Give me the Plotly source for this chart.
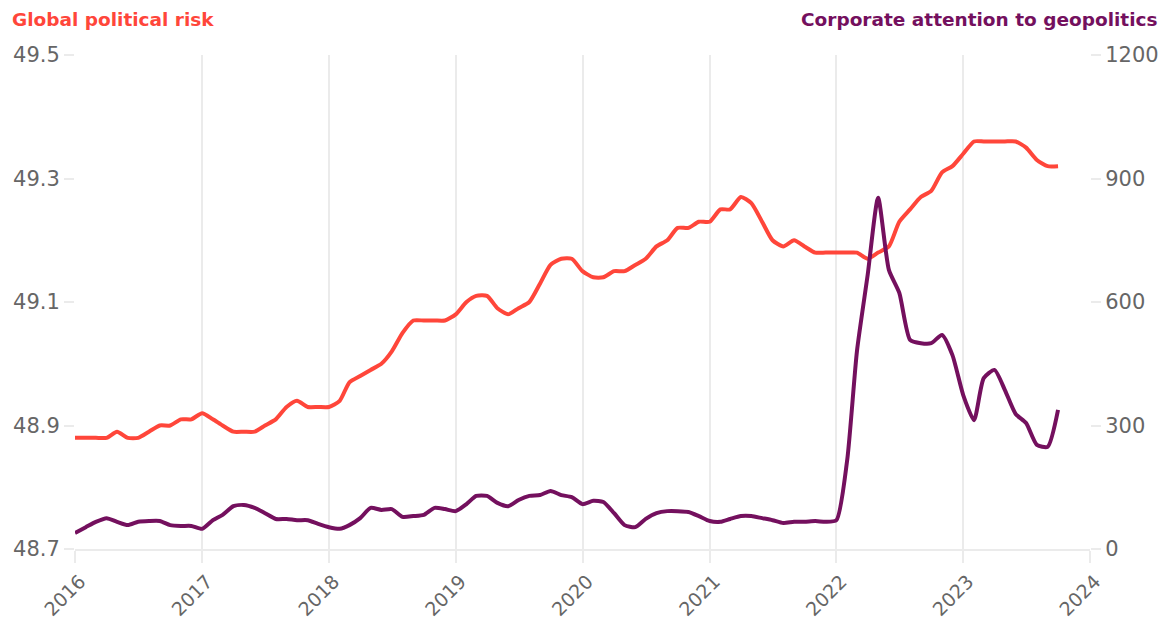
import plotly.graph_objects as go
import pandas as pd

dates = pd.date_range("2016-01-01", periods=94, freq="MS")

political_risk = [
    48.88, 48.88, 48.88, 48.88, 48.89, 48.88, 48.88, 48.89, 48.90, 48.90,
    48.91, 48.91, 48.92, 48.91, 48.90, 48.89, 48.89, 48.89, 48.90, 48.91,
    48.93, 48.94, 48.93, 48.93, 48.93, 48.94, 48.97, 48.98, 48.99, 49.00,
    49.02, 49.05, 49.07, 49.07, 49.07, 49.07, 49.08, 49.10, 49.11, 49.11,
    49.09, 49.08, 49.09, 49.10, 49.13, 49.16, 49.17, 49.17, 49.15, 49.14,
    49.14, 49.15, 49.15, 49.16, 49.17, 49.19, 49.20, 49.22, 49.22, 49.23,
    49.23, 49.25, 49.25, 49.27, 49.26, 49.23, 49.20, 49.19, 49.20, 49.19,
    49.18, 49.18, 49.18, 49.18, 49.18, 49.17, 49.18, 49.19, 49.23, 49.25,
    49.27, 49.28, 49.31, 49.32, 49.34, 49.36, 49.36, 49.36, 49.36, 49.36,
    49.35, 49.33, 49.32, 49.32,
]

corporate_attention = [
    39, 53, 66, 75, 66, 58, 66, 68, 68, 58,
    56, 56, 49, 70, 83, 104, 107, 100, 87, 73,
    73, 70, 70, 61, 53, 49, 58, 75, 100, 95,
    97, 78, 80, 83, 100, 97, 92, 109, 129, 129,
    112, 104, 119, 129, 131, 141, 131, 126, 109, 117,
    114, 87, 58, 53, 73, 87, 92, 92, 90, 80,
    68, 66, 73, 80, 80, 75, 70, 63, 66, 66,
    68, 66, 70, 216, 480, 666, 853, 678, 622, 508,
    500, 500, 520, 471, 374, 313, 415, 435, 386, 328,
    306, 253, 248, 338,
]

left_ticks = [48.7, 48.9, 49.1, 49.3, 49.5]
right_ticks = [0, 300, 600, 900, 1200]

RED = "#ff463a"
PURPLE = "#74105e"
GRID = "#ebebeb"
TICKFONT = dict(family="DejaVu Sans", size=21, color="#666666")
XTICKFONT = dict(family="DejaVu Sans", size=19, color="#666666")
TITLEFONT = "DejaVu Sans"

fig = go.Figure()
fig.add_trace(go.Scatter(
    x=dates, y=political_risk, mode="lines", name="Global political risk",
    line=dict(color=RED, width=4, shape="spline", smoothing=0.6),
    yaxis="y",
))
fig.add_trace(go.Scatter(
    x=dates, y=corporate_attention, mode="lines", name="Corporate attention to geopolitics",
    line=dict(color=PURPLE, width=4, shape="spline", smoothing=0.6),
    yaxis="y2",
))

fig.update_layout(
    width=1167, height=619,
    margin=dict(l=75, r=77, t=55, b=70, autoexpand=False),
    paper_bgcolor="white", plot_bgcolor="white",
    showlegend=False,
    xaxis=dict(
        type="date",
        range=["2016-01-01", "2024-01-01"],
        tickvals=[f"{y}-01-01" for y in range(2016, 2025)],
        ticktext=[str(y) for y in range(2016, 2025)],
        tickangle=-45,
        showgrid=True, gridcolor=GRID, gridwidth=2,
        showline=True, linecolor=GRID, linewidth=2,
        ticks="outside", ticklen=12, tickcolor=GRID, tickwidth=2,
        ticklabelstandoff=0, ticklabelshift=5,
        zeroline=False, automargin=False,
        tickfont=XTICKFONT,
    ),
    yaxis=dict(
        range=[48.7, 49.5],
        tickvals=left_ticks,
        ticktext=[f"{v:.1f}" for v in left_ticks],
        showgrid=False, zeroline=False, automargin=False,
        ticks="outside", ticklen=10, tickcolor=GRID, tickwidth=2,
        tickfont=TICKFONT,
    ),
    yaxis2=dict(
        range=[0, 1200],
        tickvals=right_ticks,
        ticktext=[str(v) for v in right_ticks],
        overlaying="y", side="right",
        showgrid=False, zeroline=False, automargin=False,
        ticks="outside", ticklen=10, tickcolor=GRID, tickwidth=2,
        tickfont=TICKFONT,
    ),
    annotations=[
        dict(text="<b>Global political risk</b>", xref="paper", yref="paper",
             x=-0.064, y=1.071, xanchor="left", yanchor="middle", showarrow=False,
             font=dict(family=TITLEFONT, size=18.5, color=RED)),
        dict(text="<b>Corporate attention to geopolitics</b>", xref="paper", yref="paper",
             x=1.069, y=1.071, xanchor="right", yanchor="middle", showarrow=False,
             font=dict(family=TITLEFONT, size=18.5, color=PURPLE)),
    ],
)

fig.write_html(
    "out.html",
    config={"displayModeBar": False},
    post_script="document.body.style.margin='0';document.body.style.overflow='hidden';",
)
